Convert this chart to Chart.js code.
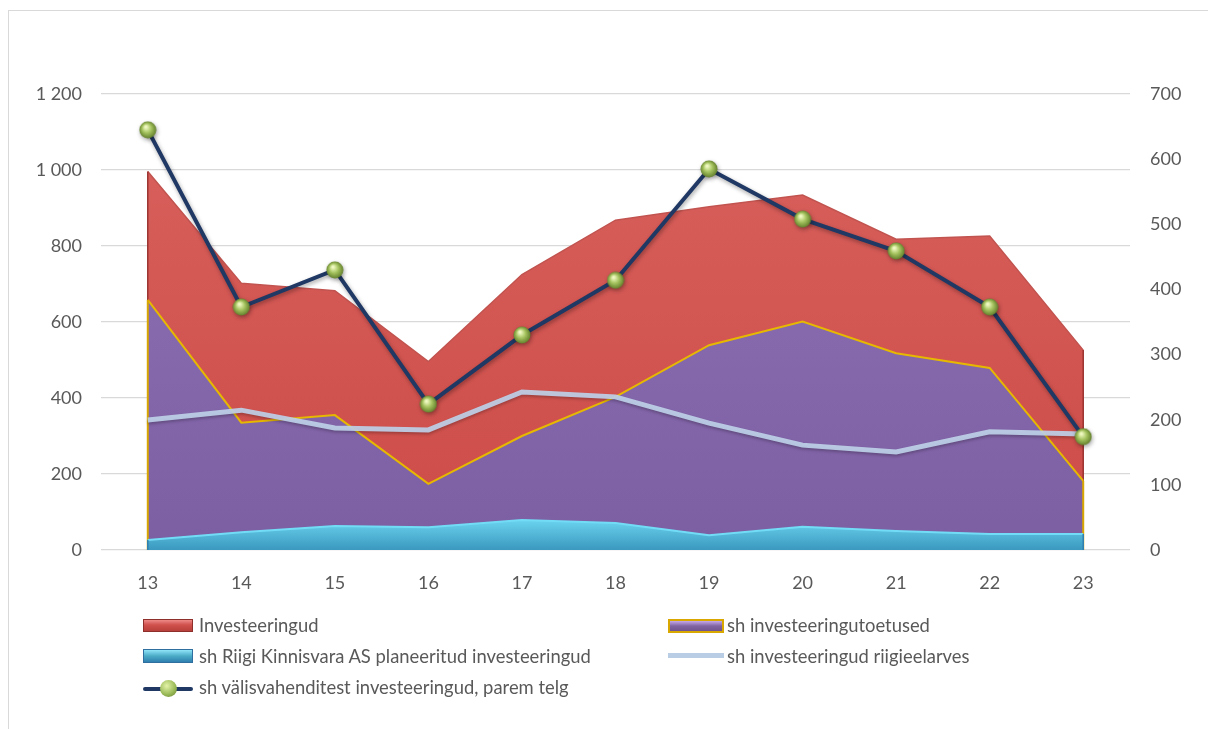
<!DOCTYPE html>
<html>
<head>
<meta charset="utf-8">
<script src="https://cdn.jsdelivr.net/npm/chart.js@4.4.1/dist/chart.umd.min.js"></script>
<style>
  html, body { margin: 0; padding: 0; background: #fff; }
  #wrap { position: relative; width: 1208px; height: 729px; overflow: hidden; }
  #frame { position: absolute; left: 8px; top: 10px; width: 1300px; height: 800px; border-left: 1px solid #d9d9d9; border-top: 1px solid #d9d9d9; }
  #c { position: absolute; left: 0; top: 0; }
  .leg { position: absolute; font-family: Lato, sans-serif; font-size: 18.4px; color: #595959; white-space: nowrap; line-height: 22px; }
  .mk { position: absolute; box-sizing: border-box; }
</style>
</head>
<body>
<div id="wrap">
  <div id="frame"></div>
  <canvas id="c" width="1208" height="729"></canvas>

  <div class="mk" style="left:143px;top:619px;width:50px;height:13px;background:linear-gradient(#ec8a86,#d0504c 45%,#b8403c);border:1px solid #8e2f2c;"></div>
  <div class="leg" style="left:199px;top:614px;">Investeeringud</div>

  <div class="mk" style="left:143px;top:649px;width:50px;height:14px;background:linear-gradient(#8fe4f8,#4bacc6 50%,#2f7fb0);border:1px solid #2f6fa0;"></div>
  <div class="leg" style="left:199px;top:645px;">sh Riigi Kinnisvara AS planeeritud investeeringud</div>

  <div class="mk" style="left:143px;top:687px;width:50px;height:4px;background:#1f3864;border-radius:2px;"></div>
  <div class="mk" style="left:160px;top:680px;width:17px;height:17px;border-radius:50%;background:radial-gradient(circle at 40% 35%,#e4f3a8,#9bbb59 55%,#5f7d2a);"></div>
  <div class="leg" style="left:199px;top:676px;">sh välisvahenditest investeeringud, parem telg</div>

  <div class="mk" style="left:668px;top:619px;width:56px;height:14px;background:linear-gradient(#c4a8ea,#8064a2 50%,#6f5491);border:2px solid #d9a800;"></div>
  <div class="leg" style="left:727px;top:614px;">sh investeeringutoetused</div>

  <div class="mk" style="left:668px;top:653px;width:56px;height:5px;background:#b9cde5;"></div>
  <div class="leg" style="left:727px;top:645px;">sh investeeringud riigieelarves</div>
</div>
<script>
const categories = ['13','14','15','16','17','18','19','20','21','22','23'];
const investeeringud = [996, 702, 682, 496, 725, 868, 903, 934, 818, 826, 526];
const toetused = [658, 335, 355, 174, 300, 403, 539, 601, 518, 479, 182];
const rkas = [26, 47, 63, 60, 79, 71, 39, 61, 50, 42, 42];
const riigieelarves = [342, 368, 321, 316, 416, 403, 334, 276, 258, 311, 305];
const valisvahendid = [645, 373, 430, 224, 330, 414, 585, 508, 459, 373, 174];
const leftTicks = [0, 200, 400, 600, 800, 1000, 1200];
const rightTicks = [0, 100, 200, 300, 400, 500, 600, 700];

function sphere() {
  const s = 18, cv = document.createElement('canvas');
  cv.width = s; cv.height = s;
  const g = cv.getContext('2d');
  const rg = g.createRadialGradient(7, 6, 1, 9, 9, 9);
  rg.addColorStop(0, '#eef8c0');
  rg.addColorStop(0.45, '#a6c460');
  rg.addColorStop(1, '#5d7a28');
  g.fillStyle = rg;
  g.beginPath(); g.arc(9, 9, 8.5, 0, Math.PI * 2); g.fill();
  return cv;
}
const ball = sphere();

function vgrad(ctx, area, top, bottom) {
  const g = ctx.createLinearGradient(0, area.top, 0, area.bottom);
  g.addColorStop(0, top); g.addColorStop(1, bottom);
  return g;
}

// edges of the area series at first/last category (vertical sides)
const edgeColors = { 2: '#2f7fb0', 3: '#d9a800', 4: '#9c3330' };
const shadowPlugin = {
  id: 'shadows',
  beforeDatasetDraw(chart, args) {
    const ctx = chart.ctx;
    ctx.save();
    const i = args.index;
    if (i === 0) { ctx.shadowColor = 'rgba(0,0,0,0.35)'; ctx.shadowBlur = 4; ctx.shadowOffsetX = 1; ctx.shadowOffsetY = 2; }
    else if (i === 1) { ctx.shadowColor = 'rgba(0,0,0,0.25)'; ctx.shadowBlur = 3; ctx.shadowOffsetY = 2; }
  },
  afterDatasetDraw(chart, args) {
    const ctx = chart.ctx;
    ctx.restore();
    const i = args.index;
    if (edgeColors[i]) {
      const meta = args.meta;
      const pts = meta.data;
      const y0 = chart.scales.y.getPixelForValue(0);
      ctx.save();
      ctx.strokeStyle = edgeColors[i];
      ctx.lineWidth = i === 3 ? 2 : 1.5;
      [pts[0], pts[pts.length - 1]].forEach(p => {
        ctx.beginPath(); ctx.moveTo(p.x, p.y); ctx.lineTo(p.x, y0); ctx.stroke();
      });
      ctx.restore();
    }
  }
};

const fmt = v => v >= 1000 ? String(v).replace(/\B(?=(\d{3})+(?!\d))/g, ' ') : String(v);

new Chart(document.getElementById('c'), {
  type: 'line',
  data: {
    labels: categories,
    datasets: [
      {
        label: 'sh välisvahenditest investeeringud, parem telg',
        data: valisvahendid, yAxisID: 'y2', order: 0,
        borderColor: '#1f3864', borderWidth: 4, fill: false, tension: 0,
        pointStyle: ball, pointRadius: 9, pointHoverRadius: 9
      },
      {
        label: 'sh investeeringud riigieelarves',
        data: riigieelarves, yAxisID: 'y', order: 1,
        borderColor: 'rgba(190,208,232,0.92)', borderWidth: 5, fill: false, tension: 0,
        pointRadius: 0
      },
      {
        label: 'sh Riigi Kinnisvara AS planeeritud investeeringud',
        data: rkas, yAxisID: 'y', order: 2,
        borderColor: '#72dcf6', borderWidth: 2, fill: 'origin', tension: 0, pointRadius: 0,
        backgroundColor: c => { const a = c.chart.chartArea; if (!a) return '#4bacc6';
          const g = c.chart.ctx.createLinearGradient(0, a.bottom - 30, 0, a.bottom);
          g.addColorStop(0, '#6ad3ee'); g.addColorStop(1, '#3b98bf'); return g; }
      },
      {
        label: 'sh investeeringutoetused',
        data: toetused, yAxisID: 'y', order: 3,
        borderColor: '#e6b800', borderWidth: 2, fill: 'origin', tension: 0, pointRadius: 0,
        backgroundColor: c => { const a = c.chart.chartArea; if (!a) return '#8064a2';
          return vgrad(c.chart.ctx, a, '#9174b8', '#7c5ea2'); }
      },
      {
        label: 'Investeeringud',
        data: investeeringud, yAxisID: 'y', order: 4,
        borderColor: '#c25450', borderWidth: 1.5, fill: 'origin', tension: 0, pointRadius: 0,
        backgroundColor: c => { const a = c.chart.chartArea; if (!a) return '#d0504c';
          return vgrad(c.chart.ctx, a, '#d9625e', '#cc4b47'); }
      }
    ]
  },
  options: {
    responsive: false, animation: false,
    layout: { padding: { top: 94, right: 0, left: 0, bottom: 0 } },
    plugins: { legend: { display: false }, tooltip: { enabled: false } },
    scales: {
      x: {
        offset: true,
        grid: { display: false },
        border: { display: false },
        ticks: { color: '#595959', font: { family: 'Lato', size: 18 }, padding: 14 },
        afterFit(s) { s.height = 179; }
      },
      y: {
        position: 'left', min: 0, max: 1200,
        afterBuildTicks(s) { s.ticks = leftTicks.map(v => ({ value: v })); },
        ticks: { color: '#595959', font: { family: 'Lato', size: 18 }, padding: 19, callback: v => fmt(v) },
        grid: { color: '#d9d9d9', lineWidth: 1.3, drawTicks: false },
        border: { display: false },
        afterFit(s) { s.width = 101; }
      },
      y2: {
        position: 'right', min: 0, max: 700,
        afterBuildTicks(s) { s.ticks = rightTicks.map(v => ({ value: v })); },
        ticks: { color: '#595959', font: { family: 'Lato', size: 18 }, padding: 20, callback: v => String(v) },
        grid: { display: false, drawTicks: false },
        border: { display: false },
        afterFit(s) { s.width = 78; }
      }
    }
  },
  plugins: [shadowPlugin]
});
</script>
</body>
</html>
